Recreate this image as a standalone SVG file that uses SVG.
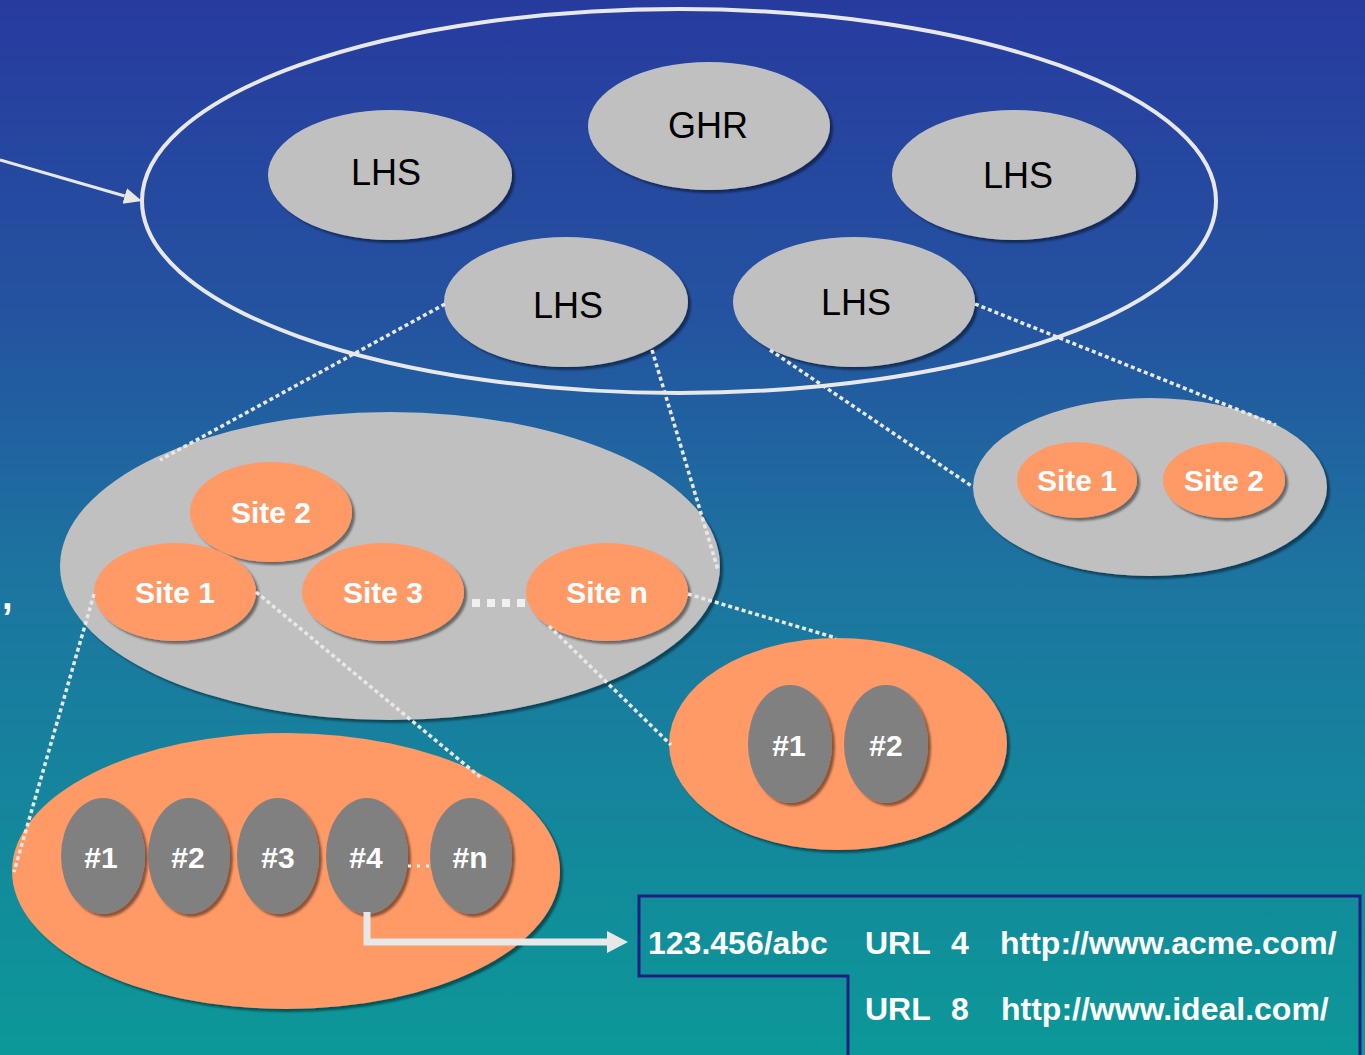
<svg xmlns="http://www.w3.org/2000/svg" width="1365" height="1055" viewBox="0 0 1365 1055">
<defs>
<linearGradient id="bg" x1="0" y1="0" x2="0" y2="1">
<stop offset="0" stop-color="#273B9F"/>
<stop offset="0.3" stop-color="#2453A0"/>
<stop offset="0.55" stop-color="#1C75A0"/>
<stop offset="1" stop-color="#0C9898"/>
</linearGradient>
<filter id="sh" x="-10%" y="-10%" width="125%" height="125%">
<feDropShadow dx="3" dy="3" stdDeviation="1" flood-color="#000" flood-opacity="0.45"/>
</filter>
<marker id="ah" markerUnits="userSpaceOnUse" markerWidth="19" markerHeight="18" viewBox="0 0 19 18" refX="0" refY="9" orient="auto">
<path d="M0,1 L18,9 L0,17 Z" fill="#E8E8E8"/>
</marker>
<marker id="ah2" markerUnits="userSpaceOnUse" markerWidth="22" markerHeight="24" viewBox="0 0 22 24" refX="0" refY="12" orient="auto">
<path d="M0,1 L21,12 L0,23 Z" fill="#E8E8E8"/>
</marker>
<style>
.gray{fill:#C0C0C0;filter:url(#sh)}
.org{fill:#FF9966;filter:url(#sh)}
.dk{fill:#808080;filter:url(#sh)}
.lbl{font-family:"Liberation Sans",Arial,sans-serif;font-size:36px;fill:#000;text-anchor:middle}
.site{font-family:"Liberation Sans",Arial,sans-serif;font-size:30px;font-weight:bold;fill:#fff;text-anchor:middle}
.tb{font-family:"Liberation Sans",Arial,sans-serif;font-size:32px;font-weight:bold;fill:#fff}
.dot{fill:none;stroke:#E8E8E8;stroke-width:3.5;stroke-dasharray:4 3}
</style>
</defs>
<rect x="0" y="0" width="1365" height="1055" fill="url(#bg)"/>
<text x="2" y="609" font-family="'Liberation Sans',Arial,sans-serif" font-size="38" font-weight="bold" fill="#fff">,</text>

<g id="outer">
<ellipse cx="679" cy="201" rx="537" ry="192" fill="none" stroke="#E8E8E8" stroke-width="4"/>
</g>
<g id="ghr"><ellipse class="gray" cx="709" cy="126" rx="121" ry="64"/><text class="lbl" x="708" y="138">GHR</text></g>
<g id="lhs1"><ellipse class="gray" cx="390" cy="175" rx="122" ry="65"/><text class="lbl" x="386" y="185">LHS</text></g>
<g id="lhs2"><ellipse class="gray" cx="1014" cy="175" rx="122" ry="65"/><text class="lbl" x="1018" y="188">LHS</text></g>
<g id="lhs3"><ellipse class="gray" cx="566" cy="302" rx="122" ry="65"/><text class="lbl" x="568" y="318">LHS</text></g>
<g id="lhs4"><ellipse class="gray" cx="854" cy="302" rx="121" ry="65"/><text class="lbl" x="856" y="315">LHS</text></g>

<g id="cluster-left">
<ellipse class="gray" cx="390" cy="566" rx="330" ry="154"/>
</g>
<g id="site2-l"><ellipse class="org" cx="271" cy="512" rx="81" ry="50"/><text class="site" x="271" y="523">Site 2</text></g>
<g id="site1-l"><ellipse class="org" cx="175" cy="592" rx="81" ry="49"/><text class="site" x="175" y="603">Site 1</text></g>
<g id="site3-l"><ellipse class="org" cx="383" cy="592" rx="81" ry="49"/><text class="site" x="383" y="603">Site 3</text></g>
<g id="siten-l"><ellipse class="org" cx="607" cy="592" rx="81" ry="49"/><text class="site" x="607" y="603">Site n</text></g>
<g id="ellipsis-sites"><line x1="472" y1="603" x2="525" y2="603" stroke="#F0F0F0" stroke-width="8" stroke-dasharray="8 7"/></g>

<g id="cluster-right">
<ellipse class="gray" cx="1150" cy="487" rx="177" ry="89"/>
</g>
<g id="site1-r"><ellipse class="org" cx="1077" cy="480" rx="60" ry="38"/><text class="site" x="1077" y="491">Site 1</text></g>
<g id="site2-r"><ellipse class="org" cx="1224" cy="480" rx="61" ry="38"/><text class="site" x="1224" y="491">Site 2</text></g>

<g id="hosts-n">
<ellipse class="org" cx="838" cy="744" rx="169" ry="106"/>
</g>
<g id="hn1"><ellipse class="dk" cx="790" cy="744" rx="42" ry="59"/><text class="site" x="789" y="756">#1</text></g>
<g id="hn2"><ellipse class="dk" cx="886" cy="744" rx="42" ry="59"/><text class="site" x="886" y="756">#2</text></g>

<g id="hosts-1">
<ellipse class="org" cx="286" cy="871" rx="274" ry="138"/>
</g>
<g id="h1"><ellipse class="dk" cx="103" cy="856" rx="42" ry="58"/><text class="site" x="101" y="868">#1</text></g>
<g id="h2"><ellipse class="dk" cx="189" cy="856" rx="41" ry="58"/><text class="site" x="188" y="868">#2</text></g>
<g id="h3"><ellipse class="dk" cx="278" cy="856" rx="41" ry="58"/><text class="site" x="278" y="868">#3</text></g>
<g id="h4"><ellipse class="dk" cx="367" cy="856" rx="41" ry="58"/><text class="site" x="366" y="868">#4</text></g>
<g id="hn"><ellipse class="dk" cx="471" cy="856" rx="41" ry="58"/><text class="site" x="470" y="868">#n</text></g>
<g id="ellipsis-hosts"><line x1="408" y1="866" x2="431" y2="866" stroke="#F0F0F0" stroke-width="3" stroke-dasharray="3 6"/></g>

<g id="record">
<path d="M848,1055 L848,976 L639,976 L639,896 L1360,896 L1360,1055" fill="none" stroke="#1E2080" stroke-width="3"/>
<text class="tb" x="648" y="954">123.456/abc</text>
<text class="tb" x="865" y="954">URL</text>
<text class="tb" x="951" y="954">4</text>
<text class="tb" x="1000" y="954">http://www.acme.com/</text>
<text class="tb" x="865" y="1020">URL</text>
<text class="tb" x="951" y="1020">8</text>
<text class="tb" x="1001" y="1020">http://www.ideal.com/</text>
</g>

<g id="connectors">
<line x1="0" y1="160" x2="124.7" y2="196" stroke="#E8E8E8" stroke-width="3" marker-end="url(#ah)"/>
<polyline points="367,912 367,942 607,942" fill="none" stroke="#E8E8E8" stroke-width="7" marker-end="url(#ah2)"/>
<line class="dot" x1="445" y1="304" x2="160" y2="460"/>
<line class="dot" x1="652" y1="350" x2="718" y2="570"/>
<line class="dot" x1="770" y1="350" x2="973" y2="487"/>
<line class="dot" x1="975" y1="304" x2="1276" y2="425"/>
<line class="dot" x1="94" y1="594" x2="14" y2="872"/>
<line class="dot" x1="256" y1="592" x2="480" y2="777"/>
<line class="dot" x1="688" y1="594" x2="836" y2="638"/>
<line class="dot" x1="549" y1="626" x2="671" y2="745"/>
</g>
</svg>
